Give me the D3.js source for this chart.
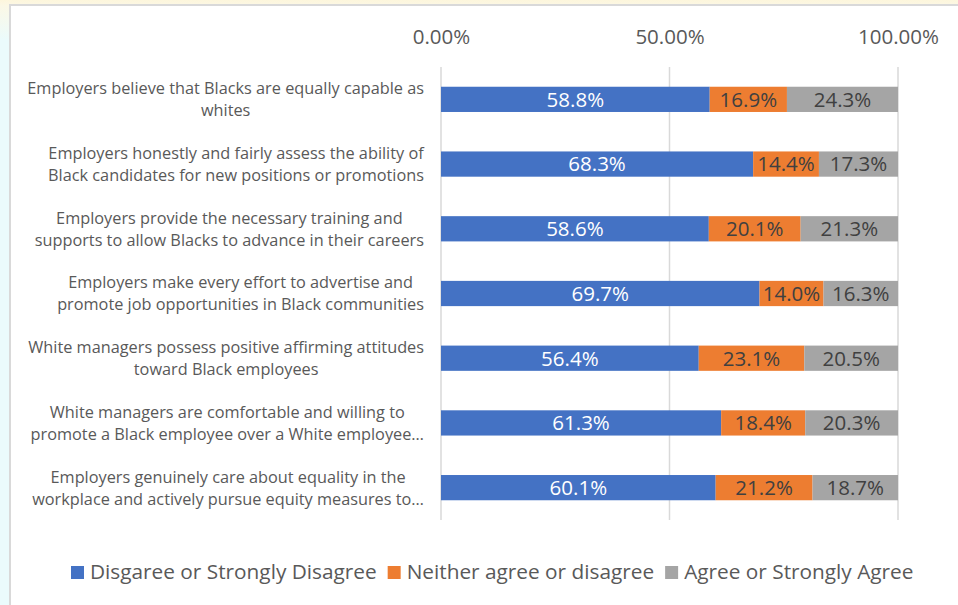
<!DOCTYPE html>
<html>
<head>
<meta charset="utf-8">
<script src="https://cdn.jsdelivr.net/npm/d3@7"></script>
<style>
  html, body { margin: 0; padding: 0; }
  body { width: 958px; height: 605px; overflow: hidden;
         background: linear-gradient(to bottom, #fdf6dc 0px, #fbf8e6 6px, #ebfbfc 40px); }
  svg { display: block; }
</style>
</head>
<body>
<svg id="chart" width="958" height="605"></svg>
<script>
// Survey statements (each label line kept as drawn)
const categories = [
  ["Employers believe that Blacks are equally capable as", "whites"],
  ["Employers honestly and fairly assess the ability of", "Black candidates for new positions or promotions"],
  ["Employers provide the necessary training and", "supports to allow Blacks to advance in their careers"],
  ["Employers make every effort to advertise and", "promote job opportunities in Black communities"],
  ["White managers possess positive affirming attitudes", "toward Black employees"],
  ["White managers are comfortable and willing to", "promote a Black employee over a White employee…"],
  ["Employers genuinely care about equality in the", "workplace and actively pursue equity measures to…"]
];
const seriesNames = ["Disgaree or Strongly Disagree", "Neither agree or disagree", "Agree or Strongly Agree"];
const disagree = [58.8, 68.3, 58.6, 69.7, 56.4, 61.3, 60.1];
const neither  = [16.9, 14.4, 20.1, 14.0, 23.1, 18.4, 21.2];
const agree    = [24.3, 17.3, 21.3, 16.3, 20.5, 20.3, 18.7];
const tickValues = [0, 0.5, 1];
const colors = ["#4472C4", "#ED7D31", "#A5A5A5"];
const labelColors = ["#ffffff", "#404040", "#404040"];
const font = "'Open Sans', Lato, sans-serif";

const svg = d3.select("#chart");

// chart panel
svg.append("rect").attr("x", 10).attr("y", 5).attr("width", 960).attr("height", 610)
  .attr("fill", "#ffffff").attr("stroke", "#d9d9d9").attr("stroke-width", 2);

const x = d3.scaleLinear().domain([0, 1]).range([441, 898]);
const y = d3.scaleBand().domain(d3.range(categories.length)).range([67, 520]).paddingInner(0.61).paddingOuter(0.305);

// gridlines
svg.append("g").selectAll("line").data(tickValues).join("line")
  .attr("x1", d => x(d)).attr("x2", d => x(d))
  .attr("y1", 67).attr("y2", 520)
  .attr("stroke", "#d9d9d9").attr("stroke-width", 1.5);

// top axis tick labels
const axis = d3.axisTop(x).tickValues(tickValues).tickSize(0).tickPadding(0)
  .tickFormat(d => (d * 100).toFixed(2) + "%");
const ax = svg.append("g").attr("transform", "translate(0,44)").call(axis);
ax.select(".domain").remove();
ax.selectAll("text").attr("font-family", font)
  .attr("font-size", 20.5).attr("fill", "#595959");

// stacked data
const rows = categories.map((c, i) => ({ i, vals: [disagree[i], neither[i], agree[i]] }));
const stack = d3.stack().keys([0, 1, 2]).value((d, k) => d.vals[k]);
const layers = stack(rows);

const gBars = svg.append("g");
layers.forEach((layer, k) => {
  const g = gBars.append("g");
  g.selectAll("rect").data(layer).join("rect")
    .attr("x", d => x(d[0] / 100))
    .attr("width", d => x(d[1] / 100) - x(d[0] / 100))
    .attr("y", d => y(d.data.i))
    .attr("height", y.bandwidth())
    .attr("fill", colors[k]);
  g.selectAll("text").data(layer).join("text")
    .attr("x", d => (x(d[0] / 100) + x(d[1] / 100)) / 2)
    .attr("y", d => y(d.data.i) + y.bandwidth() / 2)
    .attr("dy", "0.36em")
    .attr("text-anchor", "middle")
    .attr("font-family", font)
    .attr("font-size", 20.5)
    .attr("fill", labelColors[k])
    .text(d => d.data.vals[k].toFixed(1) + "%");
});

// category labels: lines centred on each other, block right-aligned before the axis
const gCat = svg.append("g").attr("font-family", font)
  .attr("font-size", 16.3).attr("fill", "#595959");
categories.forEach((lines, i) => {
  const t = gCat.append("text").attr("text-anchor", "middle");
  const spans = lines.map((ln, j) => t.append("tspan").text(ln));
  const w = d3.max(spans, s => s.node().getComputedTextLength());
  const cx = 424 - w / 2;
  const cy = y(i) + y.bandwidth() / 2;
  spans.forEach((s, j) => {
    s.attr("x", cx).attr("y", cy + (j - (lines.length - 1) / 2) * 22).attr("dy", "0.36em");
  });
});

// legend
const legend = svg.append("g").attr("font-family", font)
  .attr("font-size", 20.8).attr("fill", "#595959");
let lx = 71;
seriesNames.forEach((name, k) => {
  legend.append("rect").attr("x", lx).attr("y", 566).attr("width", 13).attr("height", 13).attr("fill", colors[k]);
  const t = legend.append("text").attr("x", lx + 19).attr("y", 572).attr("dy", "0.36em").text(name);
  lx += 19 + t.node().getComputedTextLength() + 11;
});
</script>
</body>
</html>
